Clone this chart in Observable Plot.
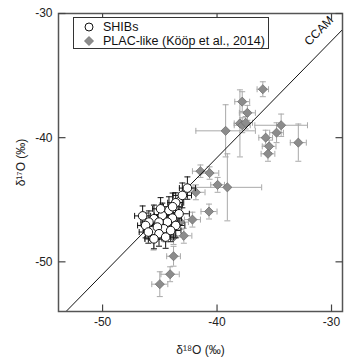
<!DOCTYPE html>
<html>
<head>
<meta charset="utf-8">
<script src="https://cdn.jsdelivr.net/npm/d3@7"></script>
<script src="https://cdn.jsdelivr.net/npm/@observablehq/plot@0.6"></script>
<style>
  html, body { margin: 0; padding: 0; background: #fff; }
  #wrap { position: relative; width: 353px; height: 363px; font-family: "Liberation Sans", Arial, sans-serif; }
  #legend { position: absolute; left: 73px; top: 17px; width: 194px; height: 30px; border: 1px solid #333; background: #fff; font-size: 12.5px; color: #111; }
  .row { position: absolute; left: 0; height: 14px; display: flex; align-items: center; white-space: nowrap; }
  .row svg { margin-left: 8px; margin-right: 7px; flex: none; }
</style>
</head>
<body>
<div id="wrap">
  <div id="chart"></div>
  <div id="legend">
    <div class="row" style="top:2px"><svg width="14" height="14"><circle cx="7" cy="7" r="4" fill="#fff" stroke="#111" stroke-width="1"/></svg><span>SHIBs</span></div>
    <div class="row" style="top:16px"><svg width="14" height="14"><path d="M7,2.5L11.5,7L7,11.5L2.5,7Z" fill="#8c8c8c" stroke="#6f6f6f" stroke-width="0.8"/></svg><span>PLAC-like (Kööp et al., 2014)</span></div>
  </div>
</div>
<script>
// ---- data ----
const shibX    = [-42.59, -43.03, -43.61, -44.20, -43.32, -44.78, -43.90, -45.51, -44.34, -45.07, -45.95, -43.61, -44.64, -45.65, -45.21, -44.05, -45.07, -44.49, -45.51, -46.24, -43.88, -44.93, -46.0, -46.5];
const shibY    = [-44.06, -44.65, -45.24, -45.86, -46.13, -46.27, -46.48, -46.53, -46.80, -46.80, -46.80, -47.07, -47.34, -47.48, -47.20, -47.48, -47.74, -48.01, -48.15, -47.07, -45.56, -45.73, -47.6, -46.3];
const shibXErr = [0.7, 0.8, 0.7, 0.8, 0.9, 0.7, 0.8, 0.7, 0.9, 0.8, 0.7, 0.8, 0.7, 0.8, 0.7, 0.9, 0.8, 0.7, 0.8, 0.7, 0.8, 0.7, 0.8, 0.7];
const shibYErr = [0.9, 1.0, 0.8, 1.1, 0.9, 1.0, 0.9, 1.1, 0.8, 1.0, 0.9, 1.0, 0.9, 0.8, 1.0, 0.9, 1.0, 0.9, 0.8, 1.0, 1.1, 0.9, 0.9, 0.8];

const placX    = [-36.0, -37.8, -37.35, -38.0, -37.8, -37.5, -39.25, -34.4, -34.8, -35.75, -35.45, -35.55, -32.9, -41.45, -40.65, -39.95, -39.1, -41.85, -40.7, -42.15, -43.8, -44.1, -45.0, -45.55, -43.8, -42.9, -43.2, -44.5];
const placY    = [-36.1, -37.1, -38.0, -38.85, -39.0, -38.8, -39.45, -39.0, -39.6, -40.0, -40.7, -41.3, -40.4, -42.7, -42.85, -43.8, -44.0, -44.4, -45.95, -46.6, -49.55, -51.0, -51.8, -48.15, -48.0, -47.9, -46.8, -47.8];
const placXErr = [0.5, 0.65, 0.7, 0.5, 0.7, 0.6, 2.6, 2.3, 0.6, 0.6, 0.6, 0.6, 0.7, 0.7, 0.8, 0.6, 3.0, 0.8, 0.7, 0.7, 0.6, 0.8, 0.7, 0.7, 0.8, 0.7, 0.7, 0.7];
const placYErr = [0.6, 0.8, 0.6, 2.7, 0.6, 0.5, 2.1, 0.9, 0.8, 0.6, 0.5, 0.6, 1.5, 0.5, 0.5, 0.6, 2.7, 0.6, 0.6, 0.6, 0.8, 0.6, 1.0, 0.9, 0.6, 0.6, 0.6, 0.6];

const xTicks = [-50, -40, -30];
const yTicks = [-50, -40, -30];
const xDomain = [-53.85, -29.04];
const yDomain = [-54, -30];
// CCAM: δ17O = 0.94 δ18O − 4.0
const ccamSlope = 0.94, ccamIntercept = -4.0;

const shib = shibX.map((x, i) => ({x, y: shibY[i], ex: shibXErr[i], ey: shibYErr[i]}));
const plac = placX.map((x, i) => ({x, y: placY[i], ex: placXErr[i], ey: placYErr[i]}));
const ccam = [{x1: xDomain[0], x2: xDomain[1]}].map(d => ({...d, y1: ccamSlope * d.x1 + ccamIntercept, y2: ccamSlope * d.x2 + ccamIntercept}));

const hCap = {draw(ctx) { ctx.moveTo(-3, 0); ctx.lineTo(3, 0); }};
const vCap = {draw(ctx) { ctx.moveTo(0, -3); ctx.lineTo(0, 3); }};
const TL = 7;
const tickUp    = {draw(ctx) { ctx.moveTo(0, 0); ctx.lineTo(0, -TL); }};
const tickDown  = {draw(ctx) { ctx.moveTo(0, 0); ctx.lineTo(0, TL); }};
const tickRight = {draw(ctx) { ctx.moveTo(0, 0); ctx.lineTo(TL, 0); }};
const tickLeft  = {draw(ctx) { ctx.moveTo(0, 0); ctx.lineTo(-TL, 0); }};

function errorBars(data, stroke, sw) {
  return [
    Plot.ruleY(data, {y: "y", x1: d => d.x - d.ex, x2: d => d.x + d.ex, stroke, strokeWidth: sw}),
    Plot.ruleX(data, {x: "x", y1: d => d.y - d.ey, y2: d => d.y + d.ey, stroke, strokeWidth: sw}),
    Plot.dot(data, {x: d => d.x - d.ex, y: "y", symbol: vCap, fill: "none", stroke, strokeWidth: sw}),
    Plot.dot(data, {x: d => d.x + d.ex, y: "y", symbol: vCap, fill: "none", stroke, strokeWidth: sw}),
    Plot.dot(data, {x: "x", y: d => d.y - d.ey, symbol: hCap, fill: "none", stroke, strokeWidth: sw}),
    Plot.dot(data, {x: "x", y: d => d.y + d.ey, symbol: hCap, fill: "none", stroke, strokeWidth: sw})
  ];
}

const fmt = d => String(d);
const axisStroke = "#444";

const chart = Plot.plot({
  width: 353,
  height: 363,
  marginLeft: 58,
  marginRight: 11,
  marginTop: 13,
  marginBottom: 52,
  style: {fontFamily: "'Liberation Sans', Arial, sans-serif", color: "#222", background: "#fff"},
  x: {domain: xDomain, axis: null},
  y: {domain: yDomain, axis: null},
  marks: [
    ...errorBars(plac, "#a9a9a9", 1),
    Plot.dot(plac, {x: "x", y: "y", symbol: "diamond2", r: 4.1, fill: "#8c8c8c", stroke: "#707070", strokeWidth: 0.8}),
    Plot.link(ccam, {x1: "x1", y1: "y1", x2: "x2", y2: "y2", stroke: "#111", strokeWidth: 1, clip: true}),
    ...errorBars(shib, "#111", 1),
    Plot.dot(shib, {x: "x", y: "y", r: 4.3, fill: "#fff", stroke: "#111", strokeWidth: 1}),
    Plot.text(["CCAM"], {x: -31.1, y: -31.4, text: d => d, rotate: -45.5, fontSize: 12, fill: "#111"}),
    Plot.frame({stroke: "#555", strokeWidth: 1.5}),
    // inward ticks on all four sides
    Plot.dot(xTicks, {x: d => d, y: () => yDomain[0], symbol: tickUp, fill: "none", stroke: axisStroke, strokeWidth: 1.2}),
    Plot.dot(xTicks, {x: d => d, y: () => yDomain[1], symbol: tickDown, fill: "none", stroke: axisStroke, strokeWidth: 1.2}),
    Plot.dot(yTicks, {y: d => d, x: () => xDomain[0], symbol: tickRight, fill: "none", stroke: axisStroke, strokeWidth: 1.2}),
    Plot.dot(yTicks, {y: d => d, x: () => xDomain[1], symbol: tickLeft, fill: "none", stroke: axisStroke, strokeWidth: 1.2}),
    Plot.axisX({anchor: "bottom", ticks: xTicks, tickSize: 0, tickPadding: 6, fontSize: 12, tickFormat: fmt, label: "δ¹⁸O (‰)", labelAnchor: "center", labelArrow: "none", labelOffset: 42}),
    Plot.axisY({anchor: "left", ticks: yTicks, tickSize: 0, tickPadding: 6, fontSize: 12, tickFormat: fmt, label: "δ¹⁷O (‰)", labelAnchor: "center", labelArrow: "none", labelOffset: 42})
  ]
});
document.getElementById("chart").appendChild(chart);
</script>
</body>
</html>
